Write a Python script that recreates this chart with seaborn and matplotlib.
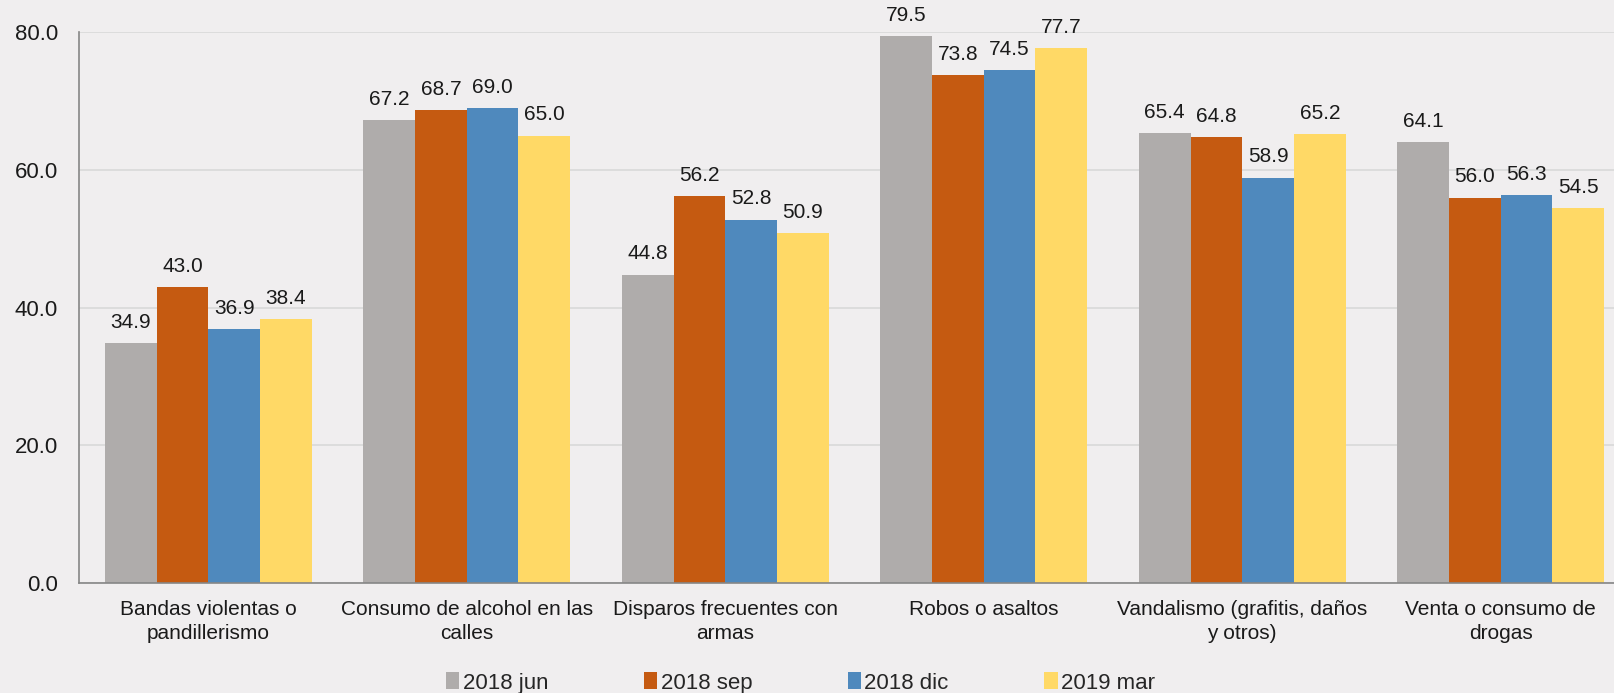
import matplotlib
matplotlib.use("Agg")
import matplotlib.pyplot as plt
import seaborn as sns
import pandas as pd
import numpy as np
from matplotlib.patches import Patch

categories = [
    "Bandas violentas o\npandillerismo",
    "Consumo de alcohol en las\ncalles",
    "Disparos frecuentes con\narmas",
    "Robos o asaltos",
    "Vandalismo (grafitis, daños\ny otros)",
    "Venta o consumo de\ndrogas",
]
series = ["2018 jun", "2018 sep", "2018 dic", "2019 mar"]
v_2018_jun = [34.9, 67.2, 44.8, 79.5, 65.4, 64.1]
v_2018_sep = [43.0, 68.7, 56.2, 73.8, 64.8, 56.0]
v_2018_dic = [36.9, 69.0, 52.8, 74.5, 58.9, 56.3]
v_2019_mar = [38.4, 65.0, 50.9, 77.7, 65.2, 54.5]
colors = ["#AFACAB", "#C55A11", "#4F89BD", "#FFD966"]

values = [v_2018_jun, v_2018_sep, v_2018_dic, v_2019_mar]
rows = []
for s, vals in zip(series, values):
    for c, v in zip(categories, vals):
        rows.append({"cat": c, "serie": s, "valor": v})
df = pd.DataFrame(rows)

sns.set_style("white")
plt.rcParams["font.family"] = ["Liberation Sans", "DejaVu Sans"]
bg = "#F0EEEF"
fig = plt.figure(figsize=(16.14, 6.93), dpi=100, facecolor=bg)
ax = fig.add_axes([79/1614, 1-583/693, (1630-79)/1614, (583-32.3)/693])
ax.set_facecolor(bg)

sns.barplot(data=df, x="cat", y="valor", hue="serie", order=categories,
            hue_order=series, palette=colors, width=0.8, ax=ax,
            legend=False, saturation=1, edgecolor="none", linewidth=0)

for cont in ax.containers:
    ax.bar_label(cont, fmt="%.1f", padding=8, fontsize=15, color="#1a1a1a")

ax.set_ylim(0, 80)
ax.set_xlim(-0.5, len(categories) - 0.5)
ax.set_yticks([0, 20, 40, 60, 80])
ax.set_yticklabels([f"{t:.1f}" for t in [0, 20, 40, 60, 80]], fontsize=16, color="#1a1a1a")
ax.yaxis.grid(True, color="#D9D9D9", linewidth=1.2)
ax.set_axisbelow(True)
ax.set_xlabel("")
ax.set_ylabel("")
for s in ["top", "right"]:
    ax.spines[s].set_visible(False)
for s in ["left", "bottom"]:
    ax.spines[s].set_color("#868686")
    ax.spines[s].set_linewidth(1.2)
ax.tick_params(axis="y", length=5, color="#868686", pad=10, width=1.2)
ax.tick_params(axis="x", which="major", length=0, pad=12, labelsize=15, labelcolor="#1a1a1a")
ax.set_xticks(np.arange(-0.5, len(categories)), minor=True)
ax.tick_params(axis="x", which="minor", length=5, color="#868686", width=1.2)
for lab in ax.get_xticklabels():
    lab.set_linespacing(1.38)

handles = [Patch(facecolor=c, edgecolor="none") for c in colors]
fig.legend(handles, series, loc="center", bbox_to_anchor=(0.496, 1-683/693),
           ncol=4, frameon=False, fontsize=16, handlelength=0.6, handleheight=0.8,
           handletextpad=0.15, columnspacing=4.3)

fig.savefig("out.png", dpi=100, facecolor=bg)
